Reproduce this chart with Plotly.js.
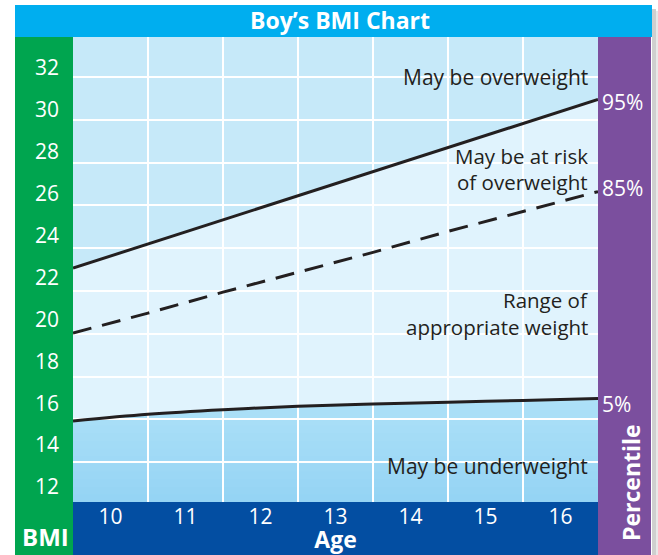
<!DOCTYPE html>
<html>
<head>
<meta charset="utf-8">
<script src="https://cdn.plot.ly/plotly-3.0.1.min.js"></script>
<style>html,body{margin:0;padding:0;background:#fff;}#chart{width:658px;height:555px;}</style>
</head>
<body>
<div id="chart"></div>
<script>
// ---- data ----
const ages = [9.5, 10.5, 11.5, 12.5, 13.5, 14.5, 15.5, 16.5];
const p95 = [22.45, 23.6, 24.75, 25.9, 27.05, 28.2, 29.35, 30.5];
const p85 = [19.35, 20.3, 21.3, 22.25, 23.2, 24.2, 25.15, 26.1];
const p5  = [15.15, 15.47, 15.69, 15.85, 15.96, 16.05, 16.13, 16.22];
const ageTicks = [10, 11, 12, 13, 14, 15, 16];
const bmiTicks = [12, 14, 16, 18, 20, 22, 24, 26, 28, 30, 32];
const percentileLabels = ['95%', '85%', '5%'];
const zoneLabels = ['May be overweight', 'May be at risk<br>of overweight', 'Range of<br>appropriate weight', 'May be underweight'];
const titleText = 'Boy\u2019s BMI Chart';

// ---- layout helpers ----
const W = 658, H = 555, L = 73, R = 598, T = 37, B = 502;
const yRange = [11.284, 33.48];
const xRange = [9.5, 16.5];
const px = x => (x - L) / (R - L);
const py = y => (B - y) / (B - T);
const FONT = 'Open Sans, sans-serif';
const INK = '#231F20';

// vertical grid at half-ages, horizontal grid on its own even spacing
const xGrid = [10.5, 11.5, 12.5, 13.5, 14.5, 15.5];
const yGrid = [];
for (let k = 0; k < 10; k++) yGrid.push(13.19 + k * 2.042);

// zone polygons built from the data through the axis scales
function pathOf(xs, ys) { return xs.map((x, i) => (i ? 'L' : 'M') + x + ',' + ys[i]).join(' '); }
const revAges = ages.slice().reverse();
const overPath = pathOf(ages, p95) + ' L' + xRange[1] + ',' + yRange[1] + ' L' + xRange[0] + ',' + yRange[1] + ' Z';
const midPath = pathOf(ages, p95) + ' ' + pathOf(revAges, p5.slice().reverse()).replace(/^M/, 'L') + ' Z';

const lineStyle = {color: INK, width: 3};
const traces = [
  {x: ages, y: p95, mode: 'lines', line: lineStyle, hoverinfo: 'skip', name: '95%'},
  {x: ages, y: p85, mode: 'lines', line: {color: INK, width: 3, dash: '19px,11px'}, hoverinfo: 'skip', name: '85%'},
  {x: ages, y: p5, mode: 'lines', line: Object.assign({shape: 'spline', smoothing: 1}, lineStyle), hoverinfo: 'skip', name: '5%'}
];

// soft vertical gradient for the underweight zone (drawn under the other zones)
const gradShapes = [];
const NB = 14, gTop = 16.4, cTop = [175, 225, 248], cBot = [148, 212, 244];
for (let i = 0; i < NB; i++) {
  const t = (i + 0.5) / NB;
  const c = cBot.map((b, k) => Math.round(b + (cTop[k] - b) * t));
  gradShapes.push({type: 'rect', xref: 'x', yref: 'y', x0: xRange[0], x1: xRange[1],
    y0: yRange[0] + (gTop - yRange[0]) * i / NB, y1: yRange[0] + (gTop - yRange[0]) * (i + 1) / NB + 0.02,
    fillcolor: 'rgb(' + c.join(',') + ')', line: {width: 0}, layer: 'below'});
}

const shapes = gradShapes.concat([
  // zones (below grid)
  {type: 'path', xref: 'x', yref: 'y', path: overPath, fillcolor: '#C6E9F9', line: {width: 0}, layer: 'below'},
  {type: 'path', xref: 'x', yref: 'y', path: midPath, fillcolor: '#E0F3FD', line: {width: 0}, layer: 'below'},
  // frame strips
  {type: 'rect', xref: 'paper', yref: 'paper', x0: px(652), x1: px(656), y0: py(555), y1: py(9), fillcolor: '#CFCFCF', line: {width: 0}, layer: 'below'},
  {type: 'rect', xref: 'paper', yref: 'paper', x0: px(656), x1: px(658), y0: py(555), y1: py(11), fillcolor: '#E8E8E8', line: {width: 0}, layer: 'below'},
  {type: 'rect', xref: 'paper', yref: 'paper', x0: px(15), x1: px(652), y0: py(37), y1: py(5), fillcolor: '#00AEEF', line: {width: 0}, layer: 'below'},
  {type: 'rect', xref: 'paper', yref: 'paper', x0: px(15), x1: px(73), y0: py(555), y1: py(37), fillcolor: '#00A54F', line: {width: 0}, layer: 'below'},
  {type: 'rect', xref: 'paper', yref: 'paper', x0: px(73), x1: px(598), y0: py(555), y1: py(502), fillcolor: '#034EA2', line: {width: 0}, layer: 'below'},
  {type: 'rect', xref: 'paper', yref: 'paper', x0: px(598), x1: px(651), y0: py(555), y1: py(37), fillcolor: '#7B4F9E', line: {width: 0}, layer: 'below'}
]);

const txt = (text, x, y, opts) => Object.assign({
  text: text, xref: 'paper', yref: 'paper', x: px(x), y: py(y), showarrow: false,
  xanchor: 'right', yanchor: 'middle', align: 'right', borderpad: 0,
  font: {family: FONT, size: 21, color: INK}
}, opts || {});
const white = (size, weight) => ({family: FONT, size: size, color: '#FFFFFF', weight: weight || 400});
const ink = size => ({family: FONT, size: size, color: INK});

// zone labels: one annotation per line for tight line spacing
const zoneLines = zoneLabels.map(s => s.split('<br>'));
const annotations = [
  txt(zoneLines[0][0], 589, 77),
  txt(zoneLines[1][0], 589, 156, {font: ink(20.5)}),
  txt(zoneLines[1][1], 589, 182, {font: ink(20.5)}),
  txt(zoneLines[2][0], 589, 300, {font: ink(20.5)}),
  txt(zoneLines[2][1], 589, 327, {font: ink(20.5)}),
  txt(zoneLines[3][0], 589, 466),
  txt(percentileLabels[0], 601, 102, {xanchor: 'left', align: 'left', font: white(21)}),
  txt(percentileLabels[1], 601, 188, {xanchor: 'left', align: 'left', font: white(21)}),
  txt(percentileLabels[2], 601, 404, {xanchor: 'left', align: 'left', font: white(21)}),
  txt('Percentile', 631, 483, {xanchor: 'center', align: 'center', textangle: -90, font: white(23, 700)}),
  txt('BMI', 45, 536, {xanchor: 'center', align: 'center', font: white(24, 700)})
];

const layout = {
  width: W, height: H,
  margin: {l: L, r: W - R, t: T, b: H - B, pad: 0},
  paper_bgcolor: '#FFFFFF',
  plot_bgcolor: '#A3DBF6',
  showlegend: false,
  title: {text: titleText, x: 340 / W, xanchor: 'center', y: 1 - 21 / H, yanchor: 'middle', yref: 'container',
          font: {family: FONT, size: 23, color: '#FFFFFF', weight: 700}},
  xaxis: {
    range: xRange, fixedrange: true, showline: false, zeroline: false, showgrid: false, ticks: '',
    tickmode: 'array', tickvals: ageTicks, ticktext: ageTicks.map(String),
    tickfont: white(21), ticklabelstandoff: 0,
    minor: {tickmode: 'array', tickvals: xGrid, showgrid: true, gridcolor: '#FFFFFF', gridwidth: 2, ticks: ''},
    title: {text: 'Age', font: white(23, 700), standoff: 4}
  },
  yaxis: {
    range: yRange, fixedrange: true, showline: false, zeroline: false, showgrid: false, ticks: '',
    tickmode: 'array', tickvals: bmiTicks, ticktext: bmiTicks.map(String),
    tickfont: white(21), ticklabelstandoff: 13,
    minor: {tickmode: 'array', tickvals: yGrid, showgrid: true, gridcolor: '#FFFFFF', gridwidth: 2, ticks: ''}
  },
  shapes: shapes,
  annotations: annotations
};

Plotly.newPlot('chart', traces, layout, {displayModeBar: false, staticPlot: true});
</script>
</body>
</html>
